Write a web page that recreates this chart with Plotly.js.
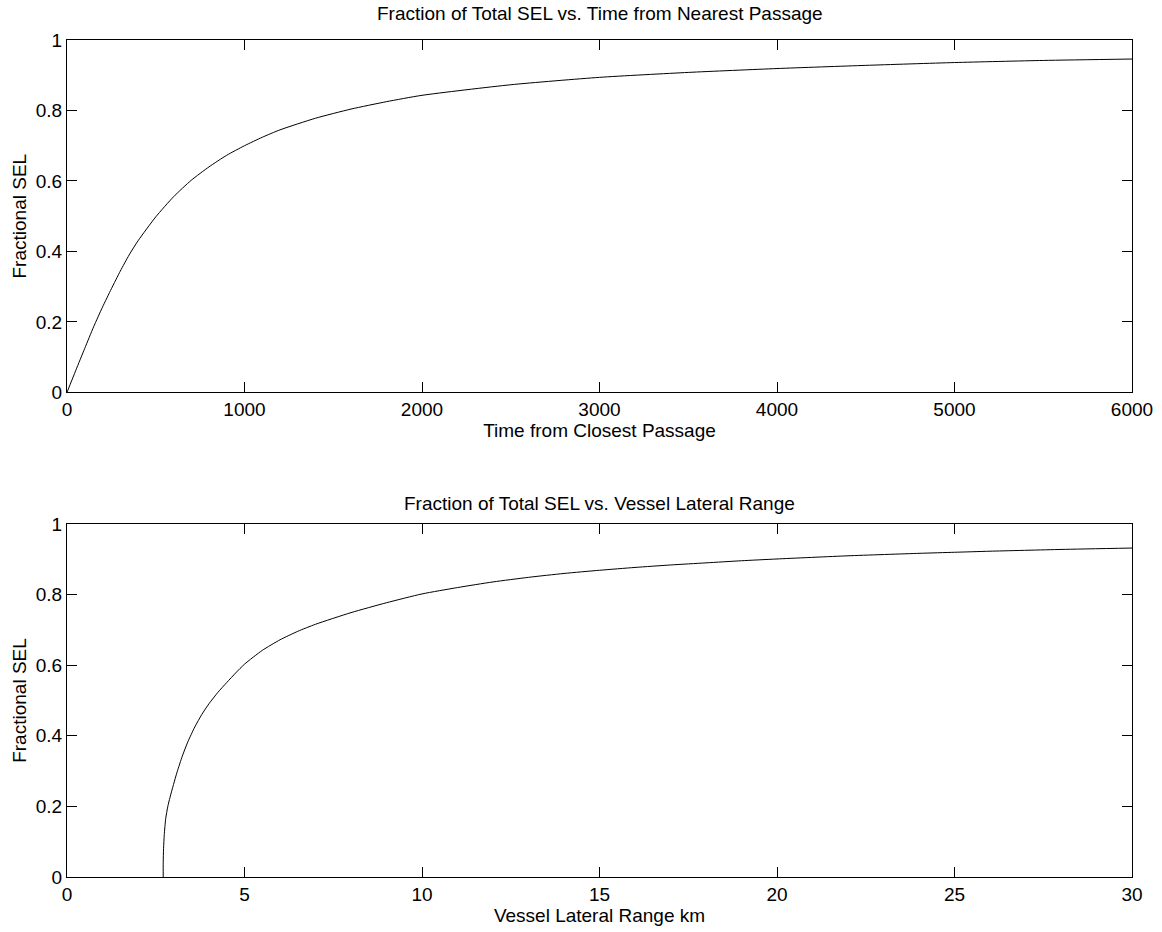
<!DOCTYPE html>
<html>
<head>
<meta charset="utf-8">
<script src="https://cdn.plot.ly/plotly-3.0.1.min.js"></script>
<style>html,body{margin:0;padding:0;background:#fff;}#chart{width:1162px;height:932px;}</style>
</head>
<body>
<div id="chart"></div>
<script>
// Top panel: time from closest passage vs fractional SEL
const timeSec = [0, 50, 100, 150, 200, 250, 300, 350, 400, 500, 600, 700, 800, 900, 1000, 1100, 1200, 1400, 1600, 1800, 2000, 2500, 3000, 3500, 4000, 4500, 5000, 5500, 6000];
const fracSelTime = [0, 0.063, 0.125, 0.186, 0.242, 0.294, 0.344, 0.39, 0.43, 0.498, 0.555, 0.602, 0.640, 0.673, 0.700, 0.724, 0.745, 0.778, 0.804, 0.825, 0.843, 0.873, 0.894, 0.908, 0.919, 0.928, 0.936, 0.942, 0.946];

// Bottom panel: vessel lateral range vs fractional SEL
const rangeKm = [2.71, 2.71, 2.72, 2.74, 2.78, 2.84, 2.9, 3.0, 3.1, 3.25, 3.4, 3.6, 3.8, 4.0, 4.25, 4.5, 4.75, 5.0, 5.5, 6.0, 6.5, 7.0, 8.0, 9.0, 10, 11, 12, 13, 14, 15, 16, 17, 18, 19, 20, 22, 24, 25, 26, 28, 30];
const fracSelRange = [0, 0.04, 0.08, 0.12, 0.165, 0.2, 0.225, 0.262, 0.297, 0.343, 0.382, 0.425, 0.461, 0.491, 0.523, 0.551, 0.578, 0.603, 0.642, 0.672, 0.696, 0.716, 0.749, 0.777, 0.802, 0.820, 0.836, 0.849, 0.860, 0.869, 0.877, 0.884, 0.890, 0.896, 0.901, 0.910, 0.917, 0.920, 0.923, 0.928, 0.932];

const titles = ["Fraction of Total SEL vs. Time from Nearest Passage", "Fraction of Total SEL vs. Vessel Lateral Range"];
const xTitles = ["Time from Closest Passage", "Vessel Lateral Range km"];
const yTitle = "Fractional SEL";
const xTicksTop = [0, 1000, 2000, 3000, 4000, 5000, 6000];
const xTicksBottom = [0, 5, 10, 15, 20, 25, 30];
const yTicks = [0, 0.2, 0.4, 0.6, 0.8, 1];
const yTickText = ["0", "0.2", "0.4", "0.6", "0.8", "1"];

const FONT = "Liberation Sans, Arial, sans-serif";
const FS = 19;

function axisBase() {
  return {
    showline: true, linecolor: "#000", linewidth: 1, mirror: "ticks",
    ticks: "inside", ticklen: 10, tickcolor: "#000", tickwidth: 1,
    showgrid: false, zeroline: false,
    tickfont: {family: FONT, size: FS, color: "#000"}
  };
}

const traces = [
  {x: timeSec, y: fracSelTime, type: "scatter", mode: "lines", line: {color: "#000", width: 1, shape: "spline", smoothing: 0.6}, xaxis: "x", yaxis: "y", hoverinfo: "x+y"},
  {x: rangeKm, y: fracSelRange, type: "scatter", mode: "lines", line: {color: "#000", width: 1, shape: "spline", smoothing: 0.6}, xaxis: "x2", yaxis: "y2", hoverinfo: "x+y"}
];

const layout = {
  width: 1162, height: 932,
  paper_bgcolor: "#fff", plot_bgcolor: "#fff",
  showlegend: false,
  margin: {l: 67, r: 30, t: 40, b: 55},
  font: {family: FONT, size: FS, color: "#000"},
  xaxis: Object.assign(axisBase(), {domain: [0, 1], anchor: "y", range: [0, 6000], tickvals: xTicksTop, ticktext: xTicksTop.map(String), title: {text: xTitles[0], font: {family: FONT, size: FS}, standoff: 3}}),
  yaxis: Object.assign(axisBase(), {domain: [0.579, 1], anchor: "x", range: [0, 1], tickvals: yTicks, ticktext: yTickText, title: {text: yTitle, font: {family: FONT, size: FS}, standoff: 4}}),
  xaxis2: Object.assign(axisBase(), {domain: [0, 1], anchor: "y2", range: [0, 30], tickvals: xTicksBottom, ticktext: xTicksBottom.map(String), title: {text: xTitles[1], font: {family: FONT, size: FS}, standoff: 3}}),
  yaxis2: Object.assign(axisBase(), {domain: [0, 0.4217], anchor: "x2", range: [0, 1], tickvals: yTicks, ticktext: yTickText, title: {text: yTitle, font: {family: FONT, size: FS}, standoff: 4}}),
  annotations: [
    {text: titles[0], xref: "paper", yref: "paper", x: 0.5, y: 1, xanchor: "center", yanchor: "bottom", yshift: 14, showarrow: false, font: {family: FONT, size: FS, color: "#000"}},
    {text: titles[1], xref: "paper", yref: "paper", x: 0.5, y: 0.4217, xanchor: "center", yanchor: "bottom", yshift: 8, showarrow: false, font: {family: FONT, size: FS, color: "#000"}}
  ]
};

Plotly.newPlot("chart", traces, layout, {displayModeBar: false, staticPlot: true});
</script>
</body>
</html>
